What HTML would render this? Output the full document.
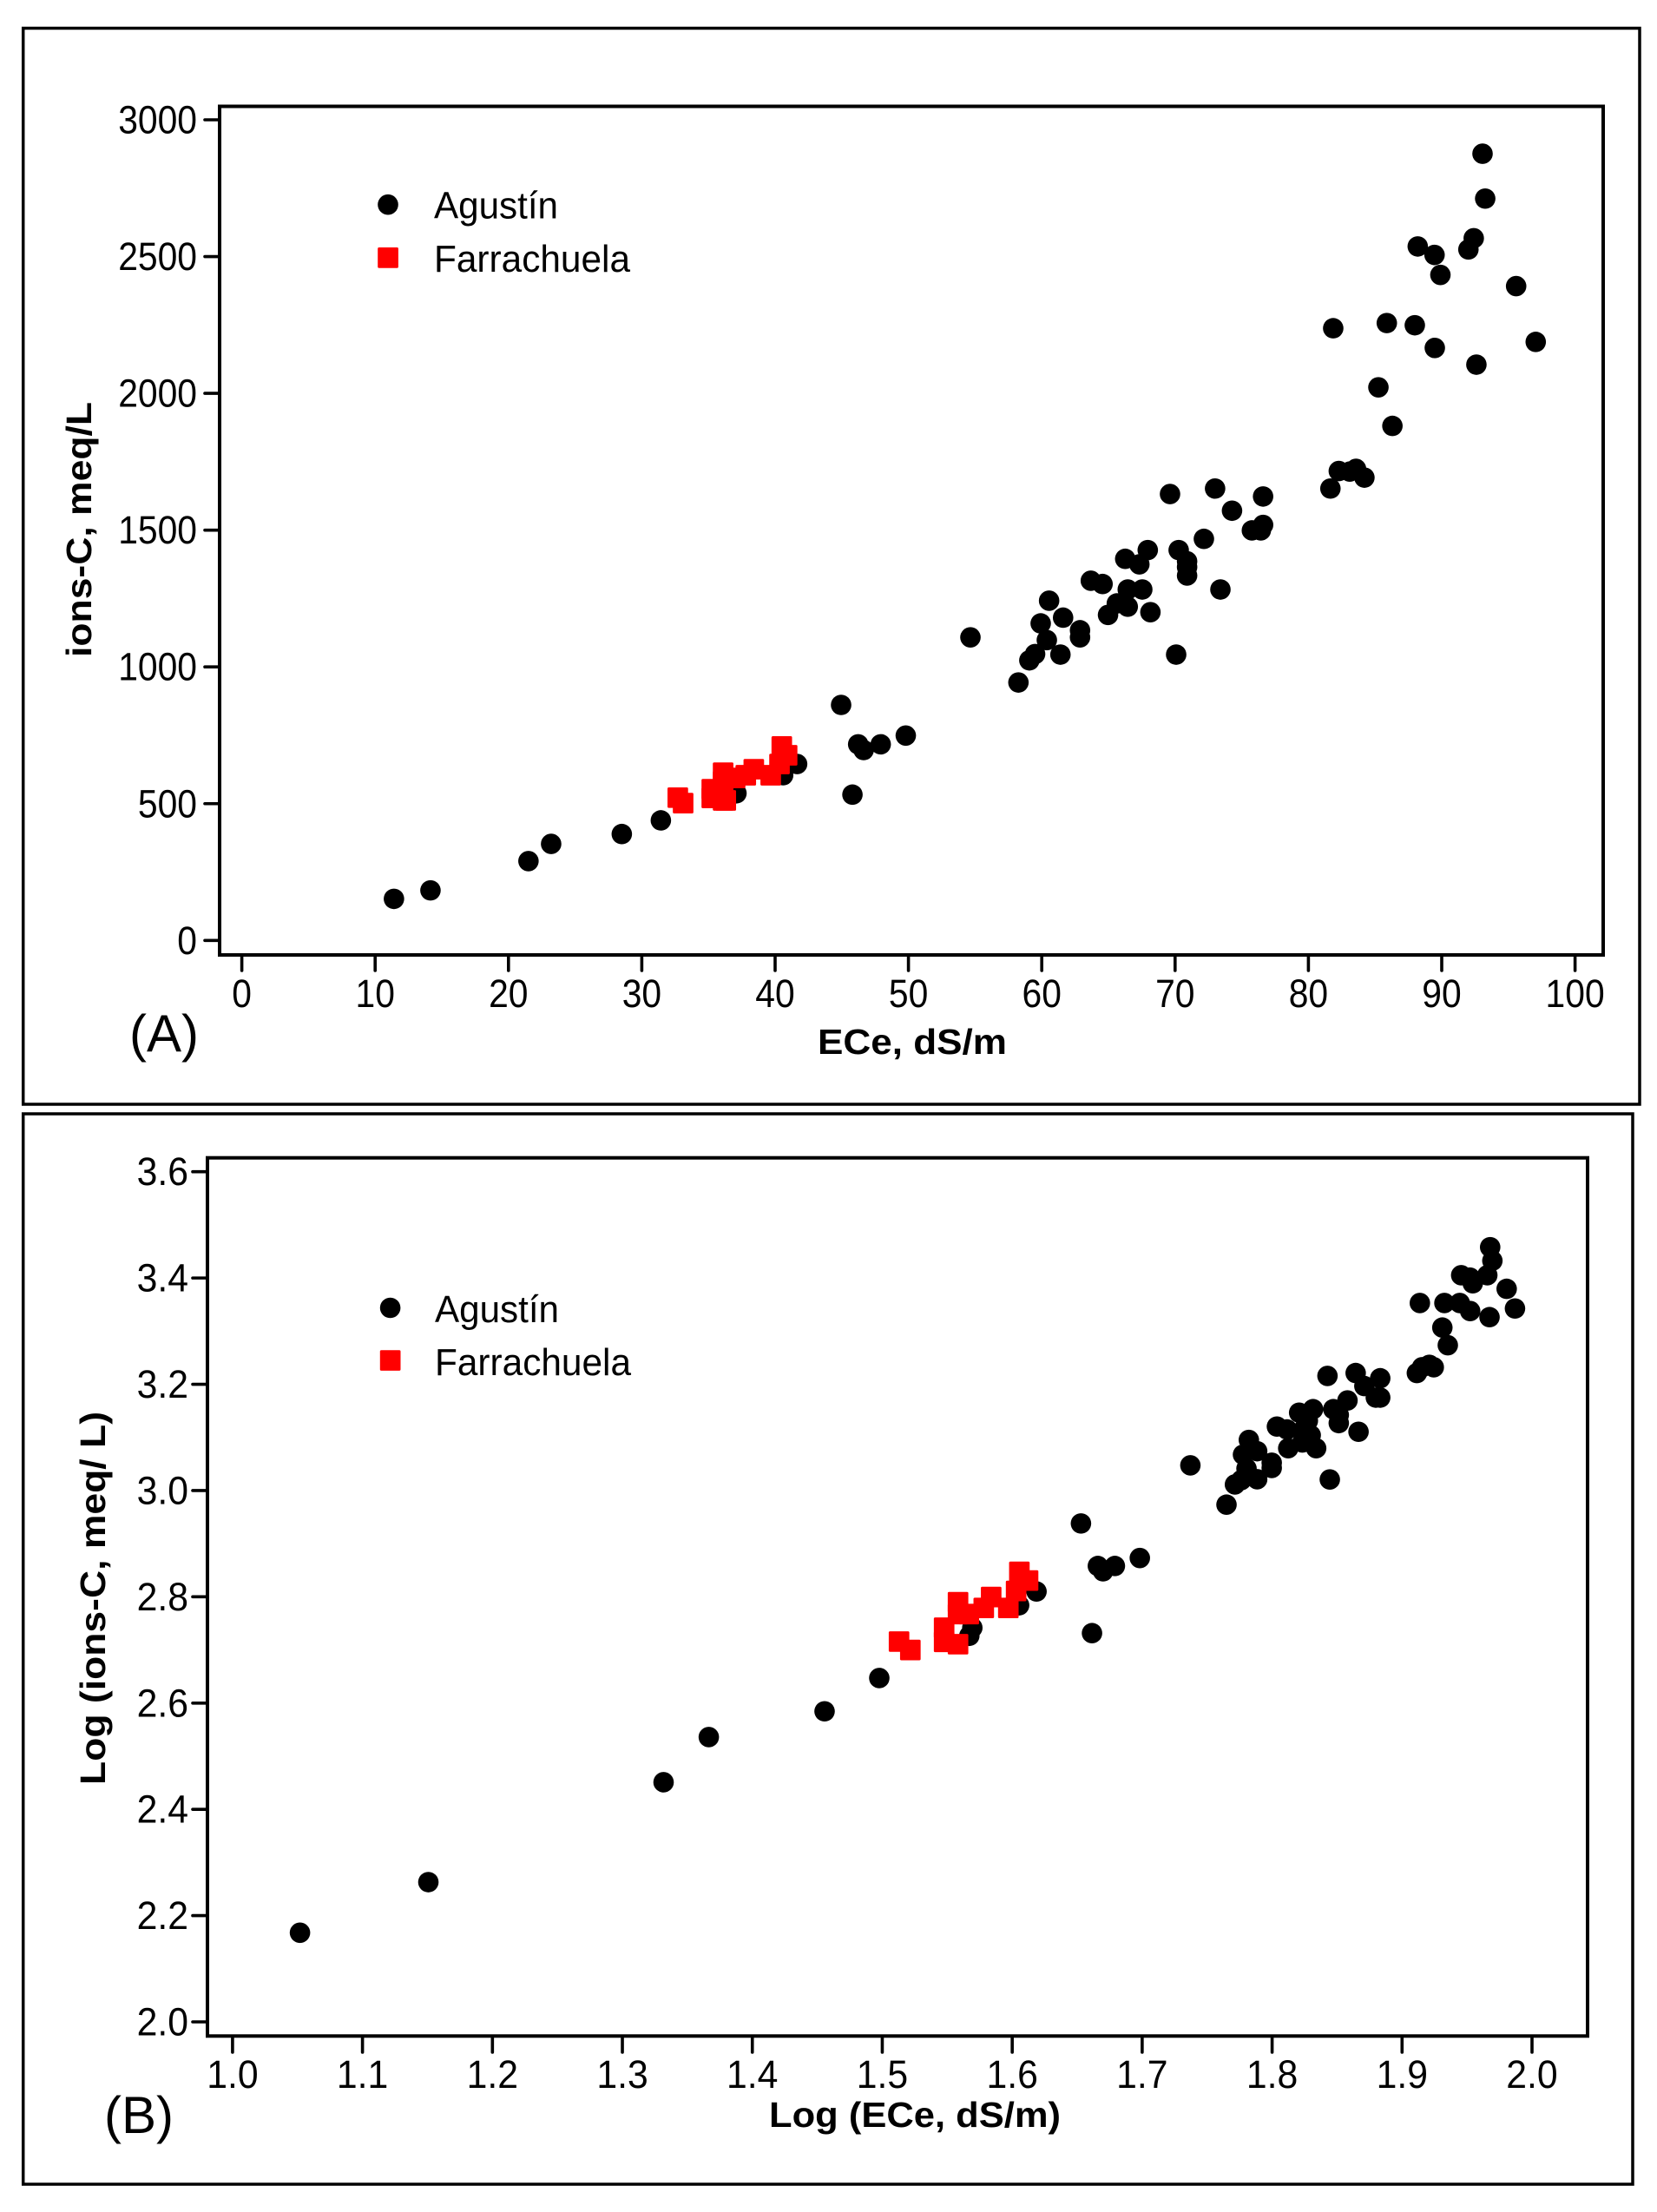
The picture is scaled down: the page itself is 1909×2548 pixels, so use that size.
<!DOCTYPE html>
<html lang="en">
<head>
<meta charset="utf-8">
<title>Ions concentration versus ECe</title>
<style>
html,body{margin:0;padding:0;background:#fff}
svg{display:block}
text{font-family:"Liberation Sans",sans-serif;fill:#000}
.title{font-weight:bold;font-size:41px}
.legend{font-size:44px}
.tick{font-size:45px}
.panel{font-size:60px}
</style>
</head>
<body>
<svg id="figure" width="1909" height="2548" viewBox="0 0 1909 2548" xmlns="http://www.w3.org/2000/svg">
  <rect width="1909" height="2548" fill="#fff"/>
  <rect x="26.7" y="32.5" width="1862.3" height="1239.5" fill="none" stroke="#000" stroke-width="3.5"/>
  <rect x="26.7" y="1283" width="1854.3" height="1233" fill="none" stroke="#000" stroke-width="3.5"/>
  <rect x="253" y="122.5" width="1594" height="977.5" fill="none" stroke="#000" stroke-width="4"/>
  <rect x="239" y="1333.7" width="1590" height="1011.6" fill="none" stroke="#000" stroke-width="4"/>
  <g id="marks-a"></g>
  <g id="marks-b"></g>
  <g id="axes-a"></g>
  <g id="axes-b"></g>

  <text class="title" x="1051" y="1214" text-anchor="middle" textLength="218" lengthAdjust="spacingAndGlyphs">ECe, dS/m</text>
  <text class="title" transform="translate(105,610) rotate(-90)" text-anchor="middle" textLength="294" lengthAdjust="spacingAndGlyphs">ions-C, meq/L</text>
  <text class="title" x="1054" y="2450" text-anchor="middle" textLength="336" lengthAdjust="spacingAndGlyphs">Log (ECe, dS/m)</text>
  <text class="title" transform="translate(121,1841) rotate(-90)" text-anchor="middle" textLength="430" lengthAdjust="spacingAndGlyphs">Log (ions-C, meq/ L)</text>

  <text class="panel" x="149" y="1211" textLength="80" lengthAdjust="spacingAndGlyphs">(A)</text>
  <text class="panel" x="120" y="2457" textLength="80" lengthAdjust="spacingAndGlyphs">(B)</text>

  <g>
    <circle cx="447" cy="235.7" r="11.8" fill="#000"/>
    <rect x="435.2" y="285" width="23.7" height="23.7" rx="1.5" fill="#f00"/>
    <text class="legend" x="500" y="251.5" textLength="143" lengthAdjust="spacingAndGlyphs">Agustín</text>
    <text class="legend" x="500" y="313" textLength="226" lengthAdjust="spacingAndGlyphs">Farrachuela</text>
  </g>
  <g>
    <circle cx="449.6" cy="1506.5" r="11.8" fill="#000"/>
    <rect x="437.8" y="1555.2" width="23.7" height="23.7" rx="1.5" fill="#f00"/>
    <text class="legend" x="501" y="1523" textLength="143" lengthAdjust="spacingAndGlyphs">Agustín</text>
    <text class="legend" x="501" y="1584" textLength="226" lengthAdjust="spacingAndGlyphs">Farrachuela</text>
  </g>
</svg>
<script>
// Panel A tick labels
const xTicksA = ["0","10","20","30","40","50","60","70","80","90","100"];
const yTicksA = ["0","500","1000","1500","2000","2500","3000"];
// Panel A: Agustín
const agustinEceA = [11.41,14.15,21.5,23.2,28.5,31.43,37.1,40.6,41.65,44.95,46.23,46.64,47.92,49.8,45.8,54.65,58.25,59.07,59.5,60.38,59.92,60.55,61.6,61.4,62.87,62.87,64.97,65.63,66.45,66.45,67.54,68.15,63.68,64.56,66.26,67.32,67.95,69.62,70.27,70.9,70.9,70.9,72.16,73.4,70.08,73.0,74.27,76.6,75.76,76.43,76.6,81.65,82.28,83.1,83.57,84.2,81.86,85.88,87.98,89.48,97.05,92.6,85.25,86.3,88.2,89.46,89.9,95.58,92.0,92.4,93.06,93.26];
const agustinIonsA = [152,183,290,353,389,439,538,604,645,861,717,696,717,749,533,1108,943,1024,1047,1098,1159,1242,1180,1045,1134,1108,1190,1232,1283,1220,1283,1200,1315,1303,1395,1375,1427,1632,1427,1386,1365,1334,1468,1283,1045,1652,1571,1623,1499,1499,1519,1652,1716,1714,1724,1692,2238,2257,2249,2166,2188,2105,2022,1881,2537,2506,2433,2392,2526,2567,2876,2712];
// Panel A: Farrachuela
const farrachuelaEceA = [32.7,33.1,35.25,35.25,36.1,36.1,36.1,36.3,37,37.8,38.4,39.67,40.33,40.5,40.9];
const farrachuelaIonsA = [522,502,553,521,613,582,512,512,594,604,626,604,645,709,677];

// Panel B tick labels
const xTicksB = ["1.0","1.1","1.2","1.3","1.4","1.5","1.6","1.7","1.8","1.9","2.0"];
const yTicksB = ["2.0","2.2","2.4","2.6","2.8","3.0","3.2","3.4","3.6"];
// Panel B: Agustín
const agustinEceB = [1.0519,1.1507,1.3317,1.3665,1.4556,1.4977,1.567,1.5693,1.6053,1.6187,1.6529,1.6659,1.6699,1.679,1.6614,1.6982,1.7371,1.7649,1.7714,1.7763,1.7885,1.7803,1.7997,1.7997,1.7776,1.7885,1.7821,1.8037,1.8115,1.8124,1.8233,1.8297,1.8208,1.8315,1.8339,1.8242,1.8275,1.8665,1.8444,1.8426,1.8471,1.8513,1.8513,1.858,1.8643,1.871,1.8832,1.8798,1.8832,1.9678,1.9695,1.9656,1.9455,1.9522,1.9544,1.9805,1.9869,1.9673,1.9524,1.9444,1.9326,1.9137,1.931,1.9352,1.9244,1.921,1.9114,1.9154];
const agustinIonsB = [2.1678,2.263,2.451,2.536,2.5845,2.6471,2.7266,2.7418,2.784,2.81,2.938,2.858,2.848,2.858,2.7316,2.873,3.0474,2.9734,3.0114,3.0196,3.0212,3.0414,3.0425,3.0523,3.0675,3.074,3.0952,3.1204,3.1149,3.0796,3.0904,3.1041,3.1465,3.1531,3.0796,3.1149,3.1312,3.1106,3.0208,3.2157,3.1531,3.1269,3.1422,3.1695,3.2211,3.1966,3.2113,3.1749,3.1749,3.458,3.4325,3.4052,3.4052,3.4008,3.39,3.3796,3.3426,3.3263,3.3378,3.3529,3.3529,3.3529,3.3067,3.2735,3.232,3.2365,3.2211,3.232];
// Panel B: Farrachuela
const farrachuelaEceB = [1.5129,1.5216,1.5476,1.5476,1.5583,1.5583,1.5583,1.5666,1.5781,1.5838,1.597,1.603,1.6055,1.6122];
const farrachuelaIonsB = [2.7157,2.6999,2.7418,2.7152,2.7897,2.7675,2.7108,2.7675,2.779,2.7995,2.779,2.811,2.847,2.8306];

const SVG_NS = "http://www.w3.org/2000/svg";

function linear(d0, d1, r0, r1) {
  return function (v) { return r0 + (v - d0) * (r1 - r0) / (d1 - d0); };
}

function create(tag, attrs, parent) {
  const el = document.createElementNS(SVG_NS, tag);
  for (const k in attrs) el.setAttribute(k, attrs[k]);
  parent.appendChild(el);
  return el;
}

function labelLength(s) {
  let n = 0;
  for (const c of s) n += (c === ".") ? 14 : 22.7;
  return n;
}

function drawAxes(group, xTicks, yTicks, sx, sy, opt) {
  xTicks.forEach(function (label) {
    const x = sx(parseFloat(label));
    const t = create("line", {x1: x, x2: x, y1: opt.bottom, y2: opt.bottom + 17, stroke: "#000", "stroke-width": 3.6, "stroke-linecap": "round"}, group);
    
    
    const txt = create("text", {x: x, y: opt.xLabelY, "text-anchor": "middle", class: "tick", textLength: labelLength(label), lengthAdjust: "spacingAndGlyphs"}, group);
    txt.textContent = label;
    
    
  });
  yTicks.forEach(function (label) {
    const y = sy(parseFloat(label));
    const t = create("line", {x1: opt.left - 15, x2: opt.left, y1: y, y2: y, stroke: "#000", "stroke-width": 3.6, "stroke-linecap": "round"}, group);
    
    
    const txt = create("text", {x: opt.yLabelX, y: y + 15.5, "text-anchor": "end", class: "tick", textLength: labelLength(label), lengthAdjust: "spacingAndGlyphs"}, group);
    txt.textContent = label;
    
    
  });
}

function drawPoints(group, xs, ys, sx, sy) {
  xs.forEach(function (v, i) {
    const c = create("circle", {cx: sx(v), cy: sy(ys[i]), r: 11.8, fill: "#000"}, group);
    
    
  });
}

function drawSquares(group, xs, ys, sx, sy) {
  xs.forEach(function (v, i) {
    const s = create("rect", {x: sx(v) - 11.85, y: sy(ys[i]) - 11.85, width: 23.7, height: 23.7, rx: 1.5, fill: "#f00"}, group);
    
    
  });
}

const xA = linear(0, 100, 278.6, 1814.6);
const yA = linear(0, 3000, 1083.3, 138);
const xB = linear(1, 2, 267.9, 1765);
const yB = linear(2, 3.6, 2329, 1349.7);

const marksA = document.getElementById("marks-a");
const marksB = document.getElementById("marks-b");
drawPoints(marksA, agustinEceA, agustinIonsA, xA, yA);
drawSquares(marksA, farrachuelaEceA, farrachuelaIonsA, xA, yA);
drawPoints(marksB, agustinEceB, agustinIonsB, xB, yB);
drawSquares(marksB, farrachuelaEceB, farrachuelaIonsB, xB, yB);

drawAxes(document.getElementById("axes-a"), xTicksA, yTicksA, xA, yA, {left: 251, bottom: 1101, xLabelY: 1160, yLabelX: 227});
drawAxes(document.getElementById("axes-b"), xTicksB, yTicksB, xB, yB, {left: 237, bottom: 2347, xLabelY: 2405, yLabelX: 217});
</script>
</body>
</html>
